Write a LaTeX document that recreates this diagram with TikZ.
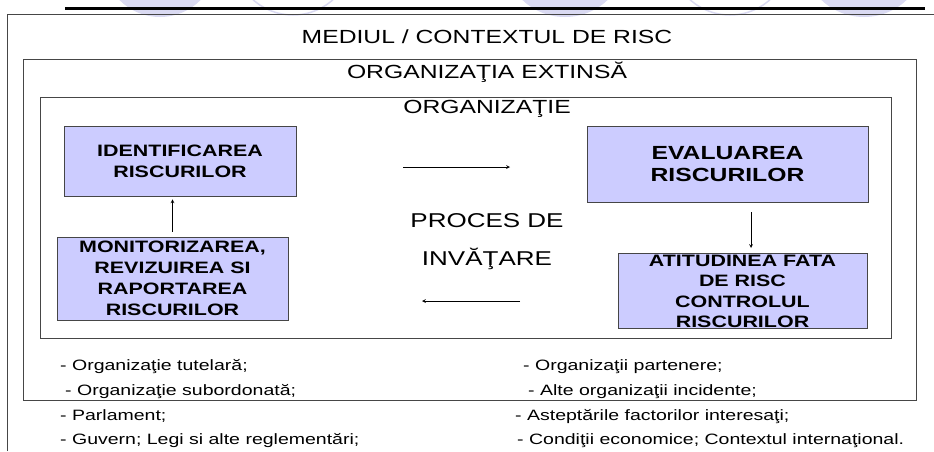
\documentclass[tikz,border=0pt]{standalone}
\usepackage{fontspec}
\setmainfont{Liberation Sans}[FakeStretch=1.3]
\usepackage{tikz}
\usetikzlibrary{arrows, positioning}
\tikzset{>=stealth}
\definecolor{procfill}{RGB}{204,204,255}
\definecolor{procline}{RGB}{70,70,70}
\definecolor{wmark}{RGB}{218,218,242}
\tikzset{
  proc/.style={draw=procline, fill=procfill, line width=0.9pt, inner sep=0pt, align=center,
    font=\bfseries\fontsize{16.5}{21}\selectfont},
  proctext/.style={inner sep=0pt, align=center, font=\bfseries\fontsize{16.5}{20.5}\selectfont},
  frame/.style={draw=procline, line width=1pt},
  ttl/.style={anchor=base, inner sep=0pt, font=\fontsize{19}{23}\selectfont},
  item/.style={anchor=base west, inner sep=0pt, font=\fontsize{15}{18}\selectfont},
  flow/.style={->, line width=0.7pt}
}

\begin{document}
\begin{tikzpicture}[x=1pt,y=-1pt]
        \useasboundingbox (0,0) rectangle (934,451);
        % faint circles of the slide
        \begin{scope}
        \clip (0,0) rectangle (934,451);
        \fill [wmark] (160,-40) circle (57);
        \draw [wmark,line width=1.5pt] (293,-45) circle (60);
        \fill [wmark] (565,-45) circle (62);
        \draw [wmark,line width=1.5pt] (730,-45) circle (60);
        \fill [wmark] (864,-45) circle (62);
        \end{scope}
        \draw [line width=3pt] (65,8)--(925,8);
        % frames
        \draw [frame] (7,451)--(7,14)--(934,14);
        \draw [frame] (23,59) rectangle (916,400);
        \draw [frame] (40,97) rectangle (891,338);
        \node (mediu) at (487,43)[ttl]{MEDIUL / CONTEXTUL DE RISC};
        \node (orgext) at (487,78.5)[ttl]{ORGANIZAŢIA EXTINSĂ};
        \node (org) at (487,113)[ttl]{ORGANIZAŢIE};
        \node (proces) at (487,227)[ttl,font=\fontsize{20}{24}\selectfont]{PROCES DE};
        \node (invatare) at (487,265)[ttl,font=\fontsize{20}{24}\selectfont]{INVĂŢARE};
        % process boxes
        \node (ident) at (180,161)[proc,minimum width=232pt,minimum height=70pt]{IDENTIFICAREA\\RISCURILOR};
        \node (monit) at (172.5,278.5)[proc,minimum width=231pt,minimum height=83pt]{MONITORIZAREA,\\REVIZUIREA SI\\RAPORTAREA\\RISCURILOR};
        \node (eval) at (727.5,164)[proc,minimum width=281pt,minimum height=76pt,
          font=\bfseries\fontsize{19}{22}\selectfont]{EVALUAREA\\RISCURILOR};
        \node (atit) at (742.5,290.5)[proc,minimum width=249pt,minimum height=75pt]{};
        \node (atittxt) at (742.5,291.5)[proctext]{ATITUDINEA FATA\\DE RISC\\CONTROLUL\\RISCURILOR};
        % arrows
        \coordinate (ra) at (403,167);
        \coordinate (rb) at (510,167);
        \coordinate (da) at (751,212);
        \coordinate (db) at (751,248);
        \coordinate (la) at (520,301);
        \coordinate (lb) at (422,301);
        \draw [flow] (ra)--(rb);
        \draw [flow] (da)--(db);
        \draw [flow] (la)--(lb);
        \draw [flow,shorten <=5pt,shorten >=3pt] (monit.north)--(monit.north |- ident.south);
        % lists
        \node (tutel) at (60,370)[item]{- Organizaţie tutelară;};
        \node (subord) at (65,395)[item]{- Organizaţie subordonată;};
        \node (parl) at (60,420)[item]{- Parlament;};
        \node (guvern) at (60,444)[item]{- Guvern; Legi si alte reglementări;};
        \node (parten) at (523,370)[item]{- Organizaţii partenere;};
        \node (alte) at (528,395)[item]{- Alte organizaţii incidente;};
        \node (astept) at (515,420)[item]{- Asteptările factorilor interesaţi;};
        \node (condit) at (517,444)[item]{- Condiţii economice; Contextul internaţional.};
\end{tikzpicture}
\end{document}
